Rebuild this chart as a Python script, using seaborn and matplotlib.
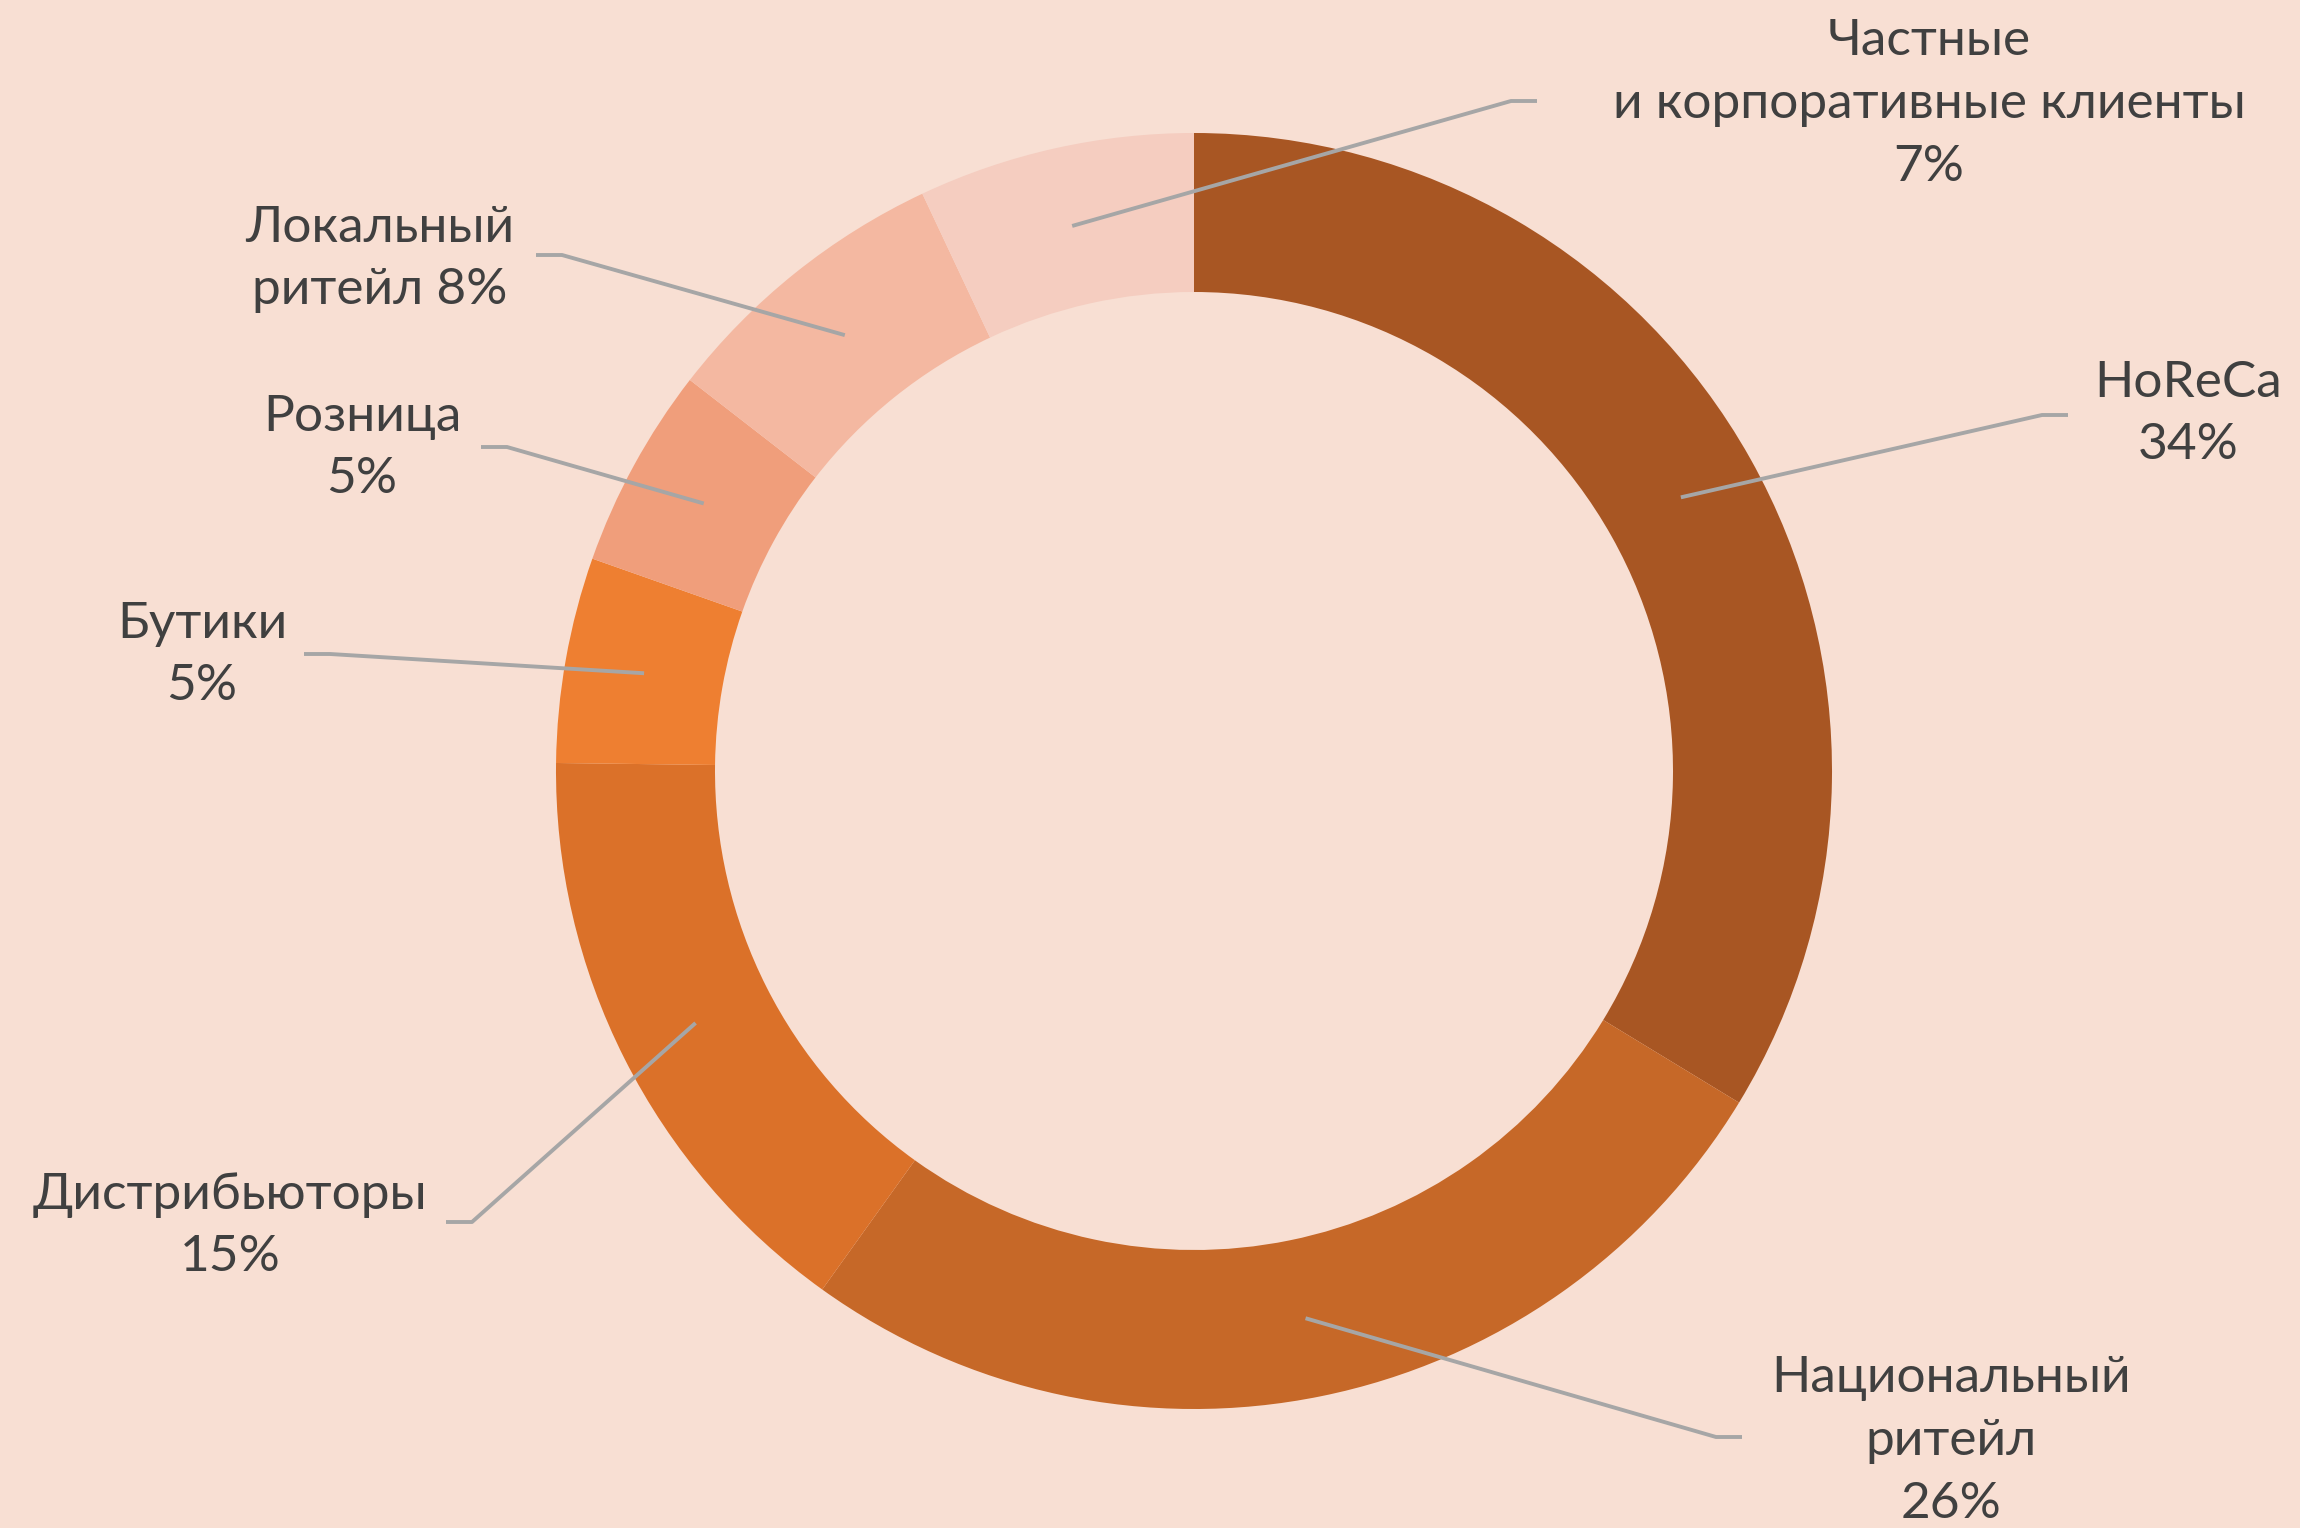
import numpy as np
import matplotlib
matplotlib.use("Agg")
import matplotlib.pyplot as plt
import seaborn as sns

# sales channel shares (%), clockwise from 12 o'clock
channels = ["HoReCa", "Национальный\nритейл", "Дистрибьюторы", "Бутики",
            "Розница", "Локальный\nритейл", "Частные\nи корпоративные клиенты"]
shares = [33.7, 26.2, 15.3, 5.2, 5.1, 7.5, 7.0]
pct_sep = ["\n", "\n", "\n", "\n", "\n", " ", "\n"]
colors = ["#A85623", "#C66828", "#DB7129", "#EE7F31", "#F09E7B", "#F4B8A1", "#F5CDC0"]

# label layout (pixels): elbow of the leader line, direction of the short tail, text centre
elbows = [(2042, 415), (1716, 1437), (472, 1222), (330, 654), (507, 447), (562, 255), (1511, 101)]
tail_dir = [1, 1, -1, -1, -1, -1, 1]
text_pos = [(2188, 414), (1951, 1441), (230, 1226), (202, 655), (362, 448), (380, 259), (1929, 104)]

W, H = 2300, 1528
bg = "#F8DFD3"
sns.set_theme(style="white", rc={"figure.facecolor": bg, "axes.facecolor": bg})
plt.rcParams["font.family"] = ["Lato", "DejaVu Sans"]

fig = plt.figure(figsize=(23, 15.28), dpi=100)
ax = fig.add_axes([0, 0, 1, 1])

cx, cy, R, ring = 1194, 771, 638, 159
wedges, _ = ax.pie(shares, colors=sns.color_palette(colors), startangle=-90, counterclock=True,
                   center=(cx, cy), radius=R, wedgeprops=dict(width=ring, linewidth=0))

ax.set_xlim(0, W)
ax.set_ylim(H, 0)
ax.set_aspect("equal")
ax.axis("off")

rmid = R - ring / 2
for w, name, v, sep, (ex, ey), d, (tx, ty) in zip(wedges, channels, shares, pct_sep,
                                                   elbows, tail_dir, text_pos):
    ang = np.deg2rad((w.theta1 + w.theta2) / 2)
    sx, sy = cx + rmid * np.cos(ang), cy + rmid * np.sin(ang)
    ax.plot([sx, ex, ex + d * 26], [sy, ey, ey], color="#A6A6A6", lw=2.8, solid_capstyle="butt")
    ax.text(tx, ty, f"{name}{sep}{v:.0f}%", ha="center", va="center", fontsize=37,
            color="#404040", linespacing=1.45, multialignment="center")

fig.savefig("out.png", dpi=100, facecolor=bg)
